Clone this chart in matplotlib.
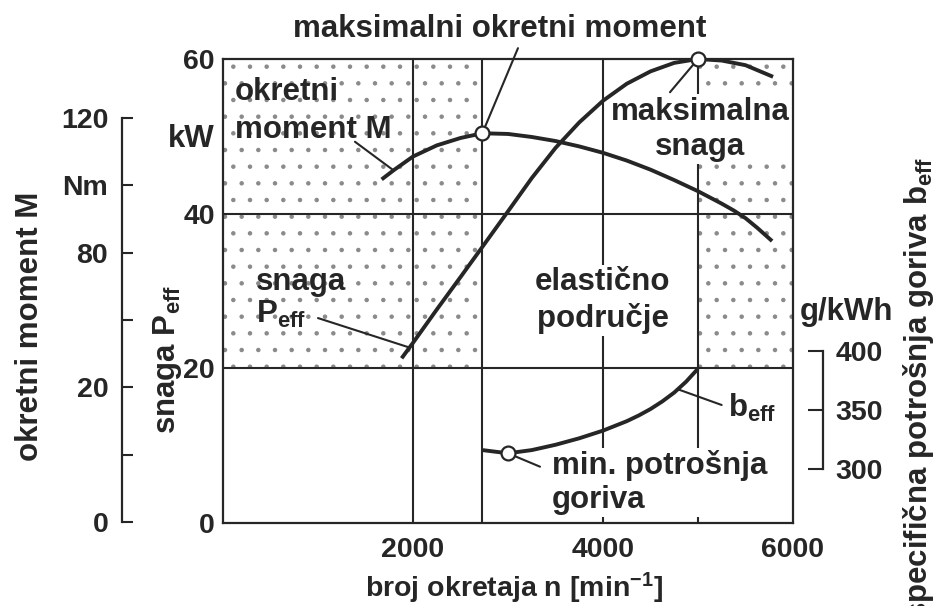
import numpy as np
import matplotlib.pyplot as plt

plt.rcParams['font.family'] = ['Liberation Sans', 'DejaVu Sans']
plt.rcParams['font.weight'] = 'bold'
plt.rcParams['axes.labelweight'] = 'bold'
plt.rcParams['mathtext.default'] = 'regular'
plt.rcParams['hatch.linewidth'] = 0.8

# engine speed [1/min] and curves
n_power = [1880, 2000, 2250, 2500, 2730, 3000, 3250, 3500, 3750, 4000,
           4250, 4500, 4750, 5000, 5250, 5500, 5790]
power_kw = [21.3, 23.3, 27.6, 31.8, 35.7, 40.3, 44.6, 48.5, 51.8, 54.6,
            56.8, 58.4, 59.5, 60.0, 59.8, 59.2, 57.7]

n_torque = [1670, 1800, 2000, 2250, 2500, 2730, 3000, 3250, 3500, 3750,
            4000, 4250, 4500, 4750, 5000, 5250, 5375, 5500, 5625, 5780]
torque_nm = [101.7, 104.5, 108.5, 111.8, 114.0, 115.4, 115.2, 114.3, 113.1, 111.5,
             109.6, 107.3, 104.6, 101.5, 98.2, 94.5, 92.5, 90.2, 87.3, 83.4]

n_bsfc = [2730, 3000, 3250, 3500, 3750, 4000, 4250, 4375, 4500, 4625,
          4750, 4875, 5000]
bsfc = [316.0, 313.3, 316.0, 320.5, 326.0, 332.5, 340.5, 345.3, 350.8, 357.3,
        364.8, 374.0, 385.0]

# grid and ticks
grid_n = [2000, 2730, 4000, 5000]
grid_p = [20, 40]
x_ticks = [2000, 4000, 6000]
p_ticks = [0, 20, 40, 60]
m_ticks = [0, 20, 40, 60, 80, 100, 120]
m_tick_labels = ['0', '', '20', '', '80', 'Nm', '120']
b_ticks = [300, 350, 400]

ink = '#262626'
big = 22.5
small = 20.5

fig = plt.figure(figsize=(9.4, 6.06), dpi=100)
ax = fig.add_axes([223 / 940, 1 - 523 / 606, 570 / 940, 464 / 606])
ax.set_xlim(0, 6000)
ax.set_ylim(0, 60)

# stippled full load zones
ax.fill_between([0, 2730], 20, 60, facecolor='none', edgecolor='#8a8a8a',
                hatch='.', linewidth=0, zorder=0.5)
ax.fill_between([5000, 6000], 20, 60, facecolor='none', edgecolor='#8a8a8a',
                hatch='.', linewidth=0, zorder=0.5)

for n in grid_n:
    ax.axvline(n, color=ink, lw=1.5, zorder=1)
for p in grid_p:
    ax.axhline(p, color=ink, lw=1.5, zorder=1)

for s in ax.spines.values():
    s.set_linewidth(1.6)
    s.set_color(ink)

ax.set_xticks(x_ticks)
ax.set_yticks(p_ticks)
ax.tick_params(axis='both', length=0, labelsize=small, colors=ink)
ax.tick_params(axis='x', pad=10)
ax.tick_params(axis='y', pad=6)
ax.text(-0.014, 49.7, 'kW', transform=ax.get_yaxis_transform(), ha='right',
        va='center', fontsize=big, color=ink)

ax.plot(n_power, power_kw, color=ink, lw=2.8, solid_capstyle='butt', zorder=3)
i_pmax = int(np.argmax(power_kw))
ax.plot(n_power[i_pmax], power_kw[i_pmax], 'o', ms=10, mfc='white', mec=ink,
        mew=1.6, zorder=6, clip_on=False)

# torque axis on the far left
ax_m = ax.twinx()
ax_m.set_ylim(-0.3, 137.45)
for k in ['right', 'top', 'bottom']:
    ax_m.spines[k].set_visible(False)
ax_m.spines['left'].set_visible(True)
ax_m.spines['left'].set_position(('outward', 72.7))
ax_m.spines['left'].set_bounds(0, 120)
ax_m.spines['left'].set_linewidth(1.6)
ax_m.spines['left'].set_color(ink)
ax_m.yaxis.set_ticks_position('left')
ax_m.set_yticks(m_ticks)
ax_m.set_yticklabels(m_tick_labels)
ax_m.tick_params(axis='y', direction='in', length=8, width=1.5, pad=10,
                 labelsize=small, colors=ink)
ax_m.plot(n_torque, torque_nm, color=ink, lw=2.8, solid_capstyle='butt',
          solid_joinstyle='round', zorder=3)
i_mmax = int(np.argmax(torque_nm))
ax_m.plot(n_torque[i_mmax], torque_nm[i_mmax], 'o', ms=10, mfc='white', mec=ink,
          mew=1.6, zorder=6)

# fuel consumption axis on the right
ax_b = ax.twinx()
ax_b.set_ylim(254.2, 647.5)
for k in ['left', 'top', 'bottom']:
    ax_b.spines[k].set_visible(False)
ax_b.spines['right'].set_position(('axes', 1.0526))
ax_b.spines['right'].set_bounds(300, 400)
ax_b.spines['right'].set_linewidth(1.6)
ax_b.spines['right'].set_color(ink)
ax_b.set_yticks(b_ticks)
ax_b.tick_params(axis='y', direction='in', length=11, width=1.5, pad=9,
                 labelsize=small, colors=ink)
ax_b.text(1.0123, 426.3, 'g/kWh', transform=ax_b.get_yaxis_transform(),
          ha='left', va='baseline', fontsize=big, color=ink)
ax_b.plot(n_bsfc, bsfc, color=ink, lw=2.8, solid_capstyle='butt',
          solid_joinstyle='round', zorder=3)
i_bmin = int(np.argmin(bsfc))
ax_b.plot(n_bsfc[i_bmin], bsfc[i_bmin], 'o', ms=10, mfc='white', mec=ink,
          mew=1.6, zorder=6)

# labels inside the chart (baseline = last line)
white = dict(facecolor='white', edgecolor='none', pad=1.5)
ax.text(2916, 62.85, 'maksimalni okretni moment', ha='center', va='baseline',
        fontsize=big, color=ink, clip_on=False)
ax.text(126, 49.79, 'okretni\nmoment M', ha='left', va='baseline',
        fontsize=big, color=ink, linespacing=1.33, zorder=4)
ax.text(5021, 47.59, 'maksimalna\nsnaga', ha='center', va='baseline',
        multialignment='center', fontsize=big, color=ink, linespacing=1.23,
        bbox=white, zorder=2.5)
ax.text(347, 25.86, 'snaga\nP$_{eff}$', ha='left', va='baseline',
        fontsize=big, color=ink, linespacing=1.1, zorder=4)
ax.text(4000, 25.38, 'elastično\npodručje', ha='center', va='baseline',
        multialignment='center', fontsize=big, color=ink, linespacing=1.23,
        bbox=white, zorder=2.5)
ax.text(3463, 1.94, 'min. potrošnja\ngoriva', ha='left', va='baseline',
        fontsize=big, color=ink, linespacing=1.17, bbox=white, zorder=2.5)
ax.text(5316, 13.7, 'b$_{eff}$', ha='left', va='baseline',
        fontsize=big, color=ink, zorder=4)

# leader lines
lead = dict(arrowstyle='-', color=ink, lw=1.5, shrinkA=0, shrinkB=0)
ax.annotate('', xy=(n_torque[i_mmax], torque_nm[i_mmax]), xycoords=ax_m.transData,
            xytext=(3105, 61.4), textcoords='data',
            arrowprops=dict(lead, shrinkB=5), annotation_clip=False)
ax.annotate('', xy=(1790, 104.5), xycoords=ax_m.transData,
            xytext=(1389, 49.3), textcoords='data', arrowprops=lead)
ax.annotate('', xy=(n_power[i_pmax], power_kw[i_pmax]), xycoords='data',
            xytext=(4705, 55.7), textcoords='data',
            arrowprops=dict(lead, shrinkB=5))
ax.annotate('', xy=(1960, 22.7), xycoords='data',
            xytext=(1000, 26.5), textcoords='data', arrowprops=lead)
ax.annotate('', xy=(n_bsfc[i_bmin], bsfc[i_bmin]), xycoords=ax_b.transData,
            xytext=(3337, 7.28), textcoords='data',
            arrowprops=dict(lead, shrinkB=5))
ax.annotate('', xy=(4790, 367.5), xycoords=ax_b.transData,
            xytext=(5249, 15.26), textcoords='data', arrowprops=lead)

# axis titles
ax.set_xlabel('broj okretaja n [min$^{-1}$]', fontsize=20.5, color=ink,
              fontweight='bold')
ax.xaxis.set_label_coords(0.5105, -0.104)
fig.text(30 / 940, 1 - 326.5 / 606, 'okretni moment M', rotation=90,
         ha='center', va='center', fontsize=big, color=ink)
fig.text(167 / 940, 1 - 360 / 606, 'snaga P$_{eff}$', rotation=90,
         ha='center', va='center', fontsize=big, color=ink)
fig.text(919 / 940, 1 - 157 / 606, 'specifična potrošnja goriva b$_{eff}$',
         rotation=90, ha='center', va='top', fontsize=big, color=ink)

fig.savefig('out.png', dpi=100)
